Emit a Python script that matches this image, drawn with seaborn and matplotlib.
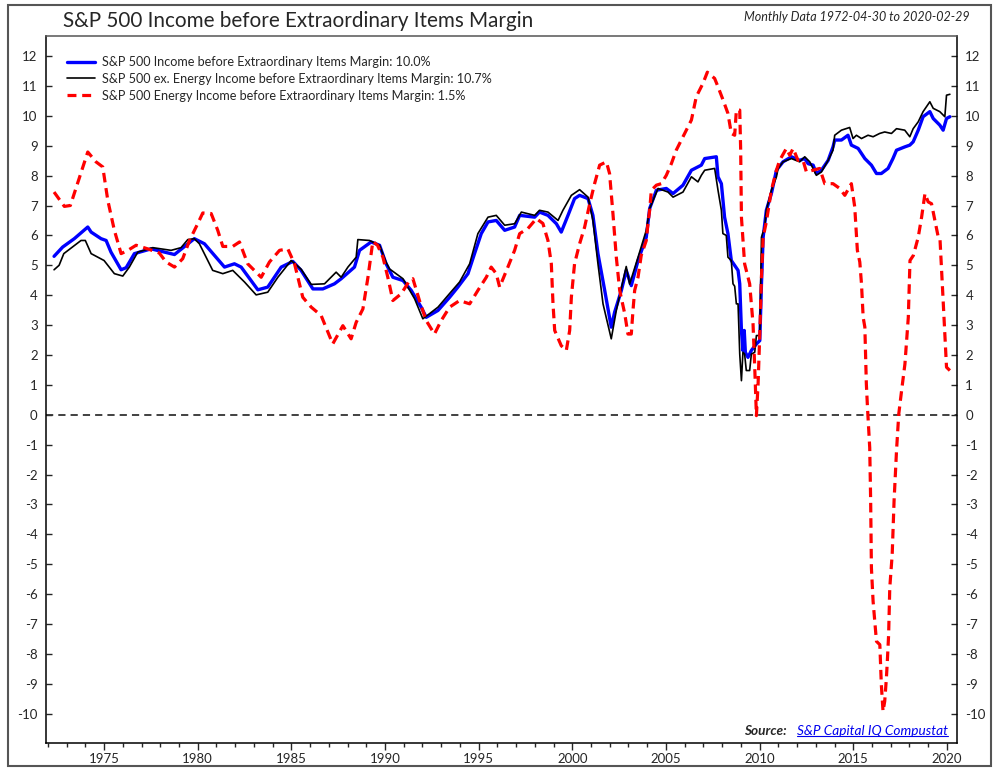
import matplotlib
matplotlib.use("Agg")
import matplotlib.pyplot as plt
import seaborn as sns
from matplotlib.ticker import MultipleLocator, FormatStrFormatter
from matplotlib.lines import Line2D
from matplotlib.patches import Rectangle

# S&P 500 total (blue)
sp_year = [1972.33, 1972.79, 1973.41, 1974.13, 1974.31, 1974.84, 1975.11, 1975.37, 1975.91, 1976.18,
           1976.62, 1977.51, 1978.76, 1979.82, 1980.36, 1981.43, 1981.96, 1982.32, 1983.21, 1983.74,
           1984.46, 1985.08, 1985.52, 1986.15, 1986.68, 1987.30, 1987.66, 1988.37, 1988.64, 1989.26,
           1989.71, 1990.06, 1990.42, 1990.96, 1991.40, 1991.93, 1992.20, 1992.83, 1993.45, 1993.89,
           1994.43, 1994.78, 1995.14, 1995.50, 1995.94, 1996.39, 1996.92, 1997.19, 1997.99, 1998.25,
           1998.70, 1999.15, 1999.41, 1999.77, 2000.12, 2000.39, 2000.84, 2001.10, 2001.37, 2001.73,
           2002.08, 2002.26, 2002.62, 2002.88, 2003.15, 2003.51, 2003.95, 2004.13, 2004.49, 2005.02,
           2005.38, 2005.91, 2006.36, 2006.89, 2007.07, 2007.69, 2007.78, 2007.96, 2008.13, 2008.31,
           2008.49, 2008.85, 2008.94, 2009.03, 2009.11, 2009.18, 2009.24, 2009.38, 2009.56, 2009.83,
           2010.01, 2010.10, 2010.19, 2010.36, 2010.63, 2010.90, 2011.25, 2011.70, 2012.14, 2012.41,
           2012.59, 2012.86, 2013.03, 2013.30, 2013.66, 2013.92, 2014.01, 2014.37, 2014.72, 2014.90,
           2015.26, 2015.62, 2015.97, 2016.24, 2016.50, 2016.86, 2017.12, 2017.31, 2017.75, 2018.02,
           2018.20, 2018.47, 2018.73, 2019.09, 2019.27, 2019.62, 2019.80, 2019.98, 2020.16]
sp_margin = [5.30, 5.61, 5.89, 6.28, 6.11, 5.89, 5.83, 5.44, 4.85, 4.92,
             5.39, 5.55, 5.36, 5.89, 5.72, 4.94, 5.05, 4.94, 4.18, 4.27,
             4.94, 5.13, 4.83, 4.21, 4.21, 4.38, 4.55, 4.94, 5.50, 5.78,
             5.67, 5.05, 4.60, 4.49, 4.16, 3.60, 3.26, 3.49, 3.93, 4.27,
             4.72, 5.39, 6.06, 6.45, 6.50, 6.17, 6.28, 6.67, 6.61, 6.78,
             6.67, 6.39, 6.11, 6.67, 7.23, 7.34, 7.23, 6.67, 5.39, 4.16,
             2.93, 3.43, 4.16, 4.83, 4.32, 5.16, 5.94, 6.90, 7.51, 7.57,
             7.40, 7.68, 8.18, 8.35, 8.57, 8.63, 7.96, 7.73, 6.61, 6.06,
             5.16, 4.83, 4.38, 2.82, 2.15, 2.82, 2.09, 1.92, 2.15, 2.37,
             2.48, 4.38, 5.94, 6.84, 7.40, 8.18, 8.46, 8.63, 8.51, 8.57,
             8.40, 8.35, 8.07, 8.18, 8.51, 8.96, 9.19, 9.19, 9.35, 9.02,
             8.91, 8.57, 8.35, 8.07, 8.07, 8.24, 8.57, 8.85, 8.96, 9.02,
             9.13, 9.52, 9.97, 10.14, 9.91, 9.69, 9.52, 9.91, 9.97]

# S&P 500 ex. Energy (black)
exe_year = [1972.33, 1972.60, 1972.85, 1973.77, 1974.00, 1974.31, 1975.00, 1975.55, 1976.00, 1976.35,
            1976.80, 1977.60, 1978.58, 1979.11, 1979.47, 1979.82, 1980.09, 1980.80, 1981.34, 1981.87,
            1982.50, 1983.12, 1983.74, 1984.28, 1984.99, 1985.52, 1986.06, 1986.77, 1987.39, 1987.66,
            1988.02, 1988.46, 1988.55, 1989.17, 1989.71, 1990.06, 1990.24, 1990.96, 1991.58, 1992.02,
            1992.83, 1993.36, 1993.98, 1994.52, 1994.96, 1995.50, 1995.94, 1996.39, 1996.92, 1997.28,
            1997.99, 1998.25, 1998.70, 1999.24, 1999.50, 1999.95, 2000.39, 2000.84, 2001.10, 2001.37,
            2001.64, 2002.08, 2002.35, 2002.88, 2003.06, 2003.51, 2003.95, 2004.13, 2004.58, 2005.11,
            2005.38, 2005.91, 2006.36, 2006.71, 2006.89, 2007.07, 2007.60, 2007.78, 2007.96, 2008.04,
            2008.22, 2008.31, 2008.49, 2008.58, 2008.67, 2008.76, 2008.85, 2008.94, 2009.03, 2009.11,
            2009.20, 2009.29, 2009.47, 2009.56, 2009.74, 2009.83, 2010.01, 2010.10, 2010.27, 2010.36,
            2010.63, 2010.90, 2010.99, 2011.25, 2011.70, 2012.14, 2012.41, 2012.68, 2013.03, 2013.30,
            2013.66, 2013.92, 2014.01, 2014.37, 2014.81, 2014.99, 2015.17, 2015.44, 2015.79, 2016.06,
            2016.41, 2016.68, 2017.04, 2017.31, 2017.75, 2018.02, 2018.20, 2018.47, 2018.73, 2019.09,
            2019.27, 2019.62, 2019.89, 2019.98, 2020.16]
exe_margin = [4.85, 5.00, 5.39, 5.83, 5.83, 5.39, 5.16, 4.72, 4.64, 4.94,
              5.44, 5.59, 5.50, 5.59, 5.86, 5.89, 5.72, 4.83, 4.72, 4.83,
              4.44, 4.01, 4.10, 4.60, 5.16, 4.87, 4.36, 4.38, 4.77, 4.60,
              4.94, 5.27, 5.86, 5.83, 5.67, 5.10, 4.88, 4.55, 3.88, 3.21,
              3.60, 3.99, 4.44, 5.05, 6.06, 6.61, 6.67, 6.34, 6.39, 6.78,
              6.67, 6.84, 6.78, 6.50, 6.84, 7.34, 7.53, 7.28, 6.50, 5.05,
              3.71, 2.54, 3.49, 4.96, 4.37, 5.27, 6.17, 6.90, 7.57, 7.45,
              7.28, 7.45, 7.96, 7.79, 8.01, 8.18, 8.24, 7.51, 6.84, 6.06,
              6.00, 5.27, 5.16, 4.38, 4.30, 3.71, 3.71, 2.03, 1.14, 2.09,
              2.03, 1.48, 1.48, 2.03, 2.09, 2.65, 2.65, 5.94, 6.28, 6.84,
              7.51, 7.96, 8.24, 8.46, 8.57, 8.46, 8.63, 8.46, 8.01, 8.12,
              8.51, 8.85, 9.35, 9.52, 9.61, 9.24, 9.35, 9.24, 9.35, 9.30,
              9.41, 9.46, 9.41, 9.57, 9.52, 9.30, 9.57, 9.80, 10.14, 10.47,
              10.25, 10.14, 9.97, 10.69, 10.72]

# S&P 500 Energy (red dashed)
en_year = [1972.33, 1972.88, 1973.20, 1974.13, 1974.57, 1974.93, 1975.20, 1975.55, 1975.91, 1976.27,
           1976.71, 1977.33, 1977.95, 1978.31, 1978.76, 1979.20, 1979.56, 1980.00, 1980.27, 1980.72,
           1981.07, 1981.34, 1981.87, 1982.23, 1982.67, 1983.39, 1983.83, 1984.37, 1984.81, 1985.17,
           1985.61, 1986.06, 1986.59, 1987.21, 1987.75, 1988.19, 1988.46, 1988.82, 1989.09, 1989.35,
           1989.60, 1989.89, 1990.15, 1990.42, 1990.87, 1991.31, 1991.49, 1991.84, 1992.20, 1992.64,
           1993.00, 1993.45, 1993.98, 1994.52, 1994.96, 1995.41, 1995.67, 1995.94, 1996.12, 1996.56,
           1996.92, 1997.19, 1997.63, 1998.08, 1998.43, 1998.70, 1998.88, 1998.97, 1999.06, 1999.41,
           1999.68, 1999.86, 1999.95, 2000.12, 2000.39, 2000.66, 2000.93, 2001.19, 2001.46, 2001.82,
           2001.99, 2002.17, 2002.35, 2002.53, 2002.80, 2002.97, 2003.15, 2003.24, 2003.33, 2003.51,
           2003.68, 2003.95, 2004.04, 2004.13, 2004.22, 2004.49, 2004.75, 2005.02, 2005.29, 2005.55,
           2005.91, 2006.09, 2006.36, 2006.62, 2006.98, 2007.21, 2007.60, 2007.78, 2008.05, 2008.31,
           2008.49, 2008.67, 2008.76, 2008.94, 2008.99, 2009.03, 2009.20, 2009.47, 2009.65, 2009.74,
           2009.83, 2009.92, 2010.01, 2010.10, 2010.19, 2010.36, 2010.63, 2010.90, 2011.07, 2011.43,
           2011.61, 2011.79, 2012.05, 2012.32, 2012.50, 2012.86, 2013.21, 2013.48, 2013.92, 2014.28,
           2014.55, 2014.90, 2015.08, 2015.22, 2015.35, 2015.44, 2015.53, 2015.62, 2015.70, 2015.76,
           2015.88, 2015.93, 2015.97, 2016.06, 2016.24, 2016.42, 2016.50, 2016.59, 2016.68, 2016.77,
           2016.82, 2016.89, 2016.95, 2017.08, 2017.18, 2017.31, 2017.43, 2017.58, 2017.76, 2017.94,
           2018.03, 2018.21, 2018.47, 2018.65, 2018.83, 2019.00, 2019.18, 2019.36, 2019.54, 2019.63,
           2019.71, 2019.80, 2019.89, 2019.98, 2020.16]
en_margin = [7.45, 6.97, 7.00, 8.79, 8.46, 8.29, 7.17, 6.17, 5.39, 5.50,
             5.67, 5.55, 5.41, 5.11, 4.94, 5.22, 5.83, 6.39, 6.75, 6.73,
             6.17, 5.63, 5.63, 5.78, 5.05, 4.60, 5.11, 5.50, 5.55, 5.05,
             3.93, 3.60, 3.32, 2.37, 2.98, 2.54, 3.09, 3.54, 4.60, 5.80,
             5.67, 5.27, 4.60, 3.82, 4.05, 4.49, 4.55, 3.82, 3.15, 2.70,
             3.15, 3.60, 3.82, 3.71, 4.16, 4.60, 4.94, 4.72, 4.27, 4.94,
             5.50, 6.06, 6.23, 6.56, 6.40, 5.83, 5.05, 3.71, 2.82, 2.31,
             2.15, 2.82, 3.93, 5.05, 5.72, 6.28, 7.06, 7.73, 8.35, 8.46,
             8.07, 6.73, 5.27, 4.16, 3.38, 2.70, 2.70, 3.49, 4.16, 4.60,
             5.33, 5.83, 6.39, 6.84, 7.51, 7.68, 7.73, 8.01, 8.40, 8.85,
             9.30, 9.52, 9.86, 10.64, 11.09, 11.46, 11.25, 10.97, 10.53, 10.08,
             9.41, 9.35, 10.19, 10.19, 8.85, 6.61, 5.05, 4.38, 3.04, 1.59,
             -0.03, 1.03, 2.70, 4.60, 5.94, 6.45, 7.51, 8.18, 8.51, 8.91,
             8.68, 8.91, 8.51, 8.51, 8.12, 8.18, 8.24, 7.73, 7.73, 7.57,
             7.34, 7.73, 6.95, 5.50, 5.11, 4.38, 3.26, 2.93, 1.03, 0.25,
             -1.10, -2.88, -5.12, -6.24, -7.58, -7.69, -9.03, -9.92, -9.59, -8.81,
             -8.25, -7.35, -5.79, -4.67, -2.88, -1.21, 0.02, 0.80, 1.70, 3.26,
             5.16, 5.33, 5.94, 6.61, 7.40, 7.12, 7.06, 6.50, 5.94, 5.90,
             4.94, 3.82, 2.70, 1.59, 1.48]

labels = ["S&P 500 Income before Extraordinary Items Margin: 10.0%",
          "S&P 500 ex. Energy Income before Extraordinary Items Margin: 10.7%",
          "S&P 500 Energy Income before Extraordinary Items Margin: 1.5%"]

sns.set_style("ticks")
plt.rcParams['font.family'] = ['Lato', 'DejaVu Sans']

W, H = 998, 768
fig = plt.figure(figsize=(W / 100, H / 100), dpi=100)
ax = fig.add_axes([46 / W, 1 - 743 / H, (957 - 46) / W, (743 - 36) / H])

ax.axhline(0, color='#333333', lw=1.3, linestyle=(0, (4, 2.8)), zorder=1)

sns.lineplot(x=sp_year, y=sp_margin, ax=ax, color='#0000ff', lw=2.4, errorbar=None, sort=False, zorder=2)
sns.lineplot(x=exe_year, y=exe_margin, ax=ax, color='black', lw=1.2, errorbar=None, sort=False, zorder=3)
sns.lineplot(x=en_year, y=en_margin, ax=ax, color='#ff0000', lw=2.3, linestyle=(0, (3.0, 1.8)),
             errorbar=None, sort=False, zorder=4)

ax.set_xlim(1971.90, 2020.54)
ax.set_ylim(-10.98, 12.67)
ax.set_xlabel('')
ax.set_ylabel('')
ax.xaxis.set_major_locator(MultipleLocator(5))
ax.xaxis.set_minor_locator(MultipleLocator(1))
ax.xaxis.set_major_formatter(FormatStrFormatter('%d'))
ax.yaxis.set_major_locator(MultipleLocator(1))
ax.yaxis.set_major_formatter(FormatStrFormatter('%d'))
ax.tick_params(axis='y', which='major', direction='in', left=True, right=True,
               labelleft=True, labelright=True, length=4, width=1, labelsize=9.5, pad=6)
ax.tick_params(axis='x', which='major', direction='out', length=5, width=1, labelsize=9.5, pad=2)
ax.tick_params(axis='x', which='minor', direction='out', length=3, width=1)
for s in ax.spines.values():
    s.set_visible(True)
    s.set_linewidth(1.1)
    s.set_color('black')
ax.spines['top'].set_color('#555555')

handles = [Line2D([], [], color='#0000ff', lw=2.4),
           Line2D([], [], color='black', lw=1.2),
           Line2D([], [], color='#ff0000', lw=2.3, linestyle=(0, (2.8, 1.8)))]
ax.legend(handles, labels, loc='upper left', bbox_to_anchor=(67 / W, 1 - 56 / H),
          bbox_transform=fig.transFigure, frameon=False, fontsize=9.1, borderpad=0,
          borderaxespad=0, handlelength=2.2, handletextpad=0.55, labelspacing=0.38)

fig.text(63 / W, 1 - 21 / H, "S&P 500 Income before Extraordinary Items Margin",
         fontsize=14.9, va='center', ha='left')
fig.text(970 / W, 1 - 17 / H, "Monthly Data 1972-04-30 to 2020-02-29",
         fontsize=9.0, style='italic', va='center', ha='right')

src = fig.text(948 / W, 1 - 731 / H, "S&P Capital IQ Compustat", fontsize=9.8, style='italic',
               color='#0000ee', va='center', ha='right')
fig.canvas.draw()
bb = src.get_window_extent()
x0, x1 = bb.x0 / W, bb.x1 / W
yl = (bb.y0 + 1) / H
fig.add_artist(Line2D([x0, x1], [yl, yl], color='#0000ee', lw=0.8, transform=fig.transFigure))
fig.text(x0 - 10 / W, 1 - 731 / H, "Source:", fontsize=9.8, style='italic', weight='bold',
         va='center', ha='right')

fig.add_artist(Rectangle((8 / W, 2 / H), 983 / W, 761 / H, fill=False, ec='#555555', lw=1.5,
                         transform=fig.transFigure))

fig.savefig("out.png", dpi=100)
